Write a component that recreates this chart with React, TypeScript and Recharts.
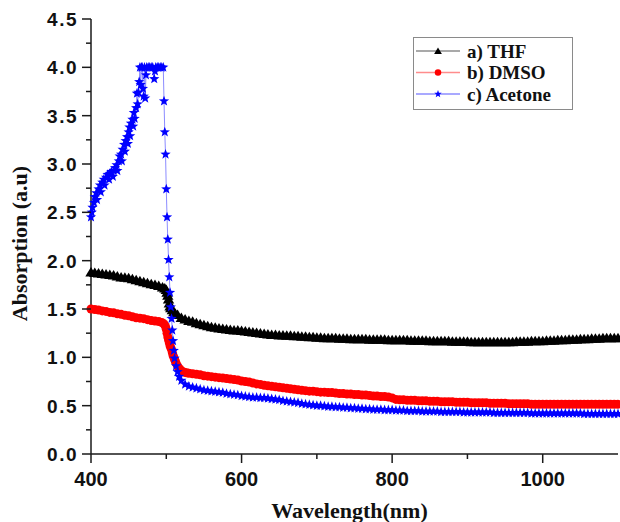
import { LineChart, Line, XAxis, YAxis, Legend } from "recharts";

type Pt = [number, number];

// wavelength (nm), absorption (a.u.)
const thf: Pt[] = [
  [400, 1.88], [405, 1.875], [410, 1.87], [415, 1.865], [420, 1.86], [425, 1.855], [430, 1.85], [435, 1.84],
  [440, 1.83], [445, 1.825], [450, 1.82], [455, 1.81], [460, 1.8], [465, 1.79], [470, 1.78], [475, 1.77],
  [480, 1.76], [485, 1.75], [490, 1.74], [495, 1.725], [498, 1.715], [500, 1.7], [501, 1.67], [502, 1.64],
  [503, 1.6], [504, 1.56], [505, 1.53], [506, 1.51], [508, 1.49], [510, 1.47], [512, 1.455], [515, 1.44],
  [520, 1.41], [525, 1.395], [530, 1.38], [535, 1.37], [540, 1.355], [545, 1.345], [550, 1.335], [555, 1.325],
  [560, 1.315], [565, 1.31], [570, 1.3], [575, 1.295], [580, 1.29], [585, 1.285], [590, 1.28], [595, 1.28],
  [600, 1.275], [605, 1.27], [610, 1.265], [615, 1.26], [620, 1.255], [625, 1.25], [630, 1.245], [635, 1.24],
  [640, 1.235], [645, 1.235], [650, 1.23], [655, 1.23], [660, 1.225], [665, 1.225], [670, 1.22], [675, 1.22],
  [680, 1.215], [685, 1.215], [690, 1.21], [695, 1.21], [700, 1.205], [705, 1.205], [710, 1.2], [715, 1.2],
  [720, 1.2], [725, 1.2], [730, 1.195], [735, 1.195], [740, 1.195], [745, 1.19], [750, 1.19], [755, 1.19],
  [760, 1.19], [765, 1.19], [770, 1.185], [775, 1.185], [780, 1.185], [785, 1.185], [790, 1.185], [795, 1.18],
  [800, 1.18], [805, 1.18], [810, 1.18], [815, 1.18], [820, 1.18], [825, 1.175], [830, 1.175], [835, 1.175],
  [840, 1.175], [845, 1.175], [850, 1.17], [855, 1.17], [860, 1.17], [865, 1.17], [870, 1.17], [875, 1.17],
  [880, 1.165], [885, 1.165], [890, 1.165], [895, 1.165], [900, 1.165], [905, 1.16], [910, 1.16], [915, 1.16],
  [920, 1.16], [925, 1.16], [930, 1.16], [935, 1.16], [940, 1.16], [945, 1.16], [950, 1.16], [955, 1.16],
  [960, 1.16], [965, 1.165], [970, 1.165], [975, 1.165], [980, 1.165], [985, 1.17], [990, 1.17], [995, 1.17],
  [1000, 1.17], [1005, 1.175], [1010, 1.175], [1015, 1.175], [1020, 1.18], [1025, 1.18], [1030, 1.18],
  [1035, 1.185], [1040, 1.185], [1045, 1.185], [1050, 1.19], [1055, 1.19], [1060, 1.19], [1065, 1.195],
  [1070, 1.195], [1075, 1.195], [1080, 1.2], [1085, 1.2], [1090, 1.2], [1095, 1.2], [1100, 1.2],
];

const dmso: Pt[] = [
  [400, 1.5], [405, 1.495], [410, 1.49], [415, 1.48], [420, 1.475], [425, 1.465], [430, 1.46], [435, 1.45],
  [440, 1.445], [445, 1.435], [450, 1.43], [455, 1.42], [460, 1.41], [465, 1.405], [470, 1.4], [475, 1.39],
  [480, 1.38], [485, 1.375], [490, 1.37], [494, 1.36], [497, 1.345], [499, 1.32], [500, 1.29], [501, 1.25],
  [502, 1.21], [503, 1.18], [504, 1.15], [505, 1.12], [506, 1.1], [507, 1.08], [508, 1.05], [509, 1.02],
  [510, 1.0], [511, 0.98], [512, 0.96], [513, 0.94], [515, 0.91], [517, 0.885], [519, 0.87], [521, 0.855],
  [524, 0.845], [527, 0.84], [530, 0.835], [535, 0.83], [540, 0.825], [545, 0.82], [550, 0.81], [555, 0.805],
  [560, 0.8], [565, 0.795], [570, 0.79], [575, 0.785], [580, 0.78], [585, 0.775], [590, 0.77], [595, 0.765],
  [600, 0.755], [605, 0.75], [610, 0.745], [615, 0.735], [620, 0.725], [625, 0.72], [630, 0.71], [635, 0.705],
  [640, 0.7], [645, 0.695], [650, 0.69], [655, 0.685], [660, 0.68], [665, 0.675], [670, 0.67], [675, 0.665],
  [680, 0.66], [685, 0.655], [690, 0.65], [695, 0.65], [700, 0.645], [705, 0.64], [710, 0.64], [715, 0.635],
  [720, 0.635], [725, 0.63], [730, 0.625], [735, 0.625], [740, 0.62], [745, 0.62], [750, 0.615], [755, 0.615],
  [760, 0.61], [765, 0.61], [770, 0.605], [775, 0.6], [780, 0.6], [785, 0.595], [790, 0.595], [795, 0.59],
  [800, 0.58], [805, 0.565], [810, 0.56], [815, 0.56], [820, 0.555], [825, 0.555], [830, 0.555], [835, 0.55],
  [840, 0.55], [845, 0.55], [850, 0.545], [855, 0.545], [860, 0.545], [865, 0.54], [870, 0.54], [875, 0.54],
  [880, 0.54], [885, 0.535], [890, 0.535], [895, 0.535], [900, 0.535], [905, 0.53], [910, 0.53], [915, 0.53],
  [920, 0.53], [925, 0.53], [930, 0.525], [935, 0.525], [940, 0.525], [945, 0.525], [950, 0.525], [955, 0.52],
  [960, 0.52], [965, 0.52], [970, 0.52], [975, 0.52], [980, 0.52], [985, 0.515], [990, 0.515], [995, 0.515],
  [1000, 0.515], [1005, 0.515], [1010, 0.515], [1015, 0.515], [1020, 0.515], [1025, 0.515], [1030, 0.515],
  [1035, 0.515], [1040, 0.515], [1045, 0.515], [1050, 0.515], [1055, 0.515], [1060, 0.515], [1065, 0.515],
  [1070, 0.515], [1075, 0.515], [1080, 0.515], [1085, 0.515], [1090, 0.515], [1095, 0.515], [1100, 0.515],
];

const acetone: Pt[] = [
  [400, 2.45], [401, 2.5], [402, 2.55], [404, 2.6], [405, 2.66], [407, 2.7], [408, 2.63], [410, 2.74],
  [412, 2.78], [413, 2.71], [415, 2.81], [417, 2.84], [418, 2.78], [420, 2.86], [422, 2.89], [424, 2.84],
  [425, 2.9], [427, 2.92], [429, 2.87], [430, 2.93], [432, 2.96], [434, 2.99], [435, 2.93], [437, 3.03],
  [438, 3.08], [440, 3.1], [441, 3.03], [442, 3.15], [444, 3.2], [445, 3.13], [446, 3.24], [448, 3.28],
  [449, 3.21], [450, 3.33], [451, 3.38], [452, 3.29], [453, 3.42], [455, 3.46], [456, 3.39], [457, 3.53],
  [458, 3.47], [460, 3.58], [461, 3.73], [462, 3.62], [463, 3.74], [464, 3.85], [465, 4.0], [466, 3.82],
  [467, 4.0], [468, 4.0], [469, 3.78], [470, 3.7], [471, 4.0], [472, 3.68], [473, 3.92], [474, 4.0],
  [476, 4.0], [478, 4.0], [480, 4.0], [482, 4.0], [484, 3.88], [485, 3.96], [486, 4.0], [488, 4.0],
  [490, 4.0], [492, 4.0], [494, 4.0], [496, 4.0], [497, 3.65], [498, 3.33], [499, 3.1], [500, 2.74],
  [501, 2.45], [502, 2.22], [503, 2.01], [504, 1.83], [505, 1.67], [506, 1.52], [507, 1.4], [508, 1.28],
  [509, 1.17], [510, 1.07], [511, 0.99], [513, 0.91], [515, 0.85], [517, 0.8], [520, 0.76], [525, 0.72],
  [530, 0.7], [535, 0.69], [540, 0.68], [545, 0.67], [550, 0.66], [555, 0.655], [560, 0.65], [565, 0.645],
  [570, 0.64], [575, 0.635], [580, 0.625], [585, 0.62], [590, 0.615], [595, 0.61], [600, 0.6], [605, 0.595],
  [610, 0.59], [615, 0.585], [620, 0.585], [625, 0.58], [630, 0.58], [635, 0.575], [640, 0.57], [645, 0.565],
  [650, 0.56], [655, 0.55], [660, 0.545], [665, 0.54], [670, 0.535], [675, 0.53], [680, 0.52], [685, 0.515],
  [690, 0.51], [695, 0.505], [700, 0.5], [705, 0.5], [710, 0.495], [715, 0.49], [720, 0.49], [725, 0.485],
  [730, 0.485], [735, 0.48], [740, 0.48], [745, 0.475], [750, 0.475], [755, 0.47], [760, 0.47], [765, 0.465],
  [770, 0.465], [775, 0.46], [780, 0.46], [785, 0.46], [790, 0.455], [795, 0.455], [800, 0.455], [805, 0.45],
  [810, 0.45], [815, 0.45], [820, 0.445], [825, 0.445], [830, 0.445], [835, 0.445], [840, 0.44], [845, 0.44],
  [850, 0.44], [855, 0.44], [860, 0.44], [865, 0.435], [870, 0.435], [875, 0.435], [880, 0.435], [885, 0.435],
  [890, 0.435], [895, 0.43], [900, 0.43], [905, 0.43], [910, 0.43], [915, 0.43], [920, 0.43], [925, 0.43],
  [930, 0.43], [935, 0.425], [940, 0.425], [945, 0.425], [950, 0.425], [955, 0.425], [960, 0.425], [965, 0.425],
  [970, 0.425], [975, 0.425], [980, 0.425], [985, 0.42], [990, 0.42], [995, 0.42], [1000, 0.42], [1005, 0.42],
  [1010, 0.42], [1015, 0.42], [1020, 0.42], [1025, 0.42], [1030, 0.42], [1035, 0.42], [1040, 0.42],
  [1045, 0.42], [1050, 0.42], [1055, 0.415], [1060, 0.415], [1065, 0.415], [1070, 0.415], [1075, 0.415],
  [1080, 0.415], [1085, 0.415], [1090, 0.415], [1095, 0.415], [1100, 0.415],
];

const xTicks = [400, 500, 600, 700, 800, 900, 1000];
const yTicks = [
  0, 0.25, 0.5, 0.75, 1, 1.25, 1.5, 1.75, 2, 2.25, 2.5, 2.75, 3, 3.25, 3.5, 3.75, 4, 4.25, 4.5,
];

const series = [
  { name: "a) THF", data: thf, color: "#000000", line: "#8c8c8c", shape: "triangle", size: 9.5 },
  { name: "b) DMSO", data: dmso, color: "#ff0000", line: "#ff8c8c", shape: "circle", size: 9 },
  { name: "c) Acetone", data: acetone, color: "#0000ff", line: "#8c8cff", shape: "star", size: 9 },
];

const AXIS = "#1a1a1a";
const SANS = "'Liberation Sans', Arial, sans-serif";
const SERIF = "'Liberation Serif', 'Times New Roman', serif";

function Mark({ cx, cy, shape, color, s }: any) {
  if (cx == null || cy == null) return null;
  if (shape === "triangle") {
    const pts = `${cx},${cy - s * 0.55} ${cx + s * 0.6},${cy + s * 0.45} ${cx - s * 0.6},${cy + s * 0.45}`;
    return <polygon points={pts} fill={color} />;
  }
  if (shape === "circle") return <circle cx={cx} cy={cy} r={s * 0.5} fill={color} />;
  const pts: string[] = [];
  for (let k = 0; k < 10; k++) {
    const r = k % 2 === 0 ? s * 0.6 : s * 0.25;
    const ang = -Math.PI / 2 + (k * Math.PI) / 5;
    pts.push(`${cx + r * Math.cos(ang)},${cy + r * Math.sin(ang)}`);
  }
  return <polygon points={pts.join(" ")} fill={color} />;
}

function XTick({ x, y, payload }: any) {
  const major = payload.value % 200 === 0;
  return (
    <g>
      <line x1={x} x2={x} y1={y} y2={y + (major ? 9 : 5)} stroke={AXIS} strokeWidth={1.5} />
      {major && (
        <text x={x} y={y + 32} textAnchor="middle" fontFamily={SANS} fontWeight="bold" fontSize={20} fill="#111">
          {payload.value}
        </text>
      )}
    </g>
  );
}

function YTick({ x, y, payload }: any) {
  const v = payload.value;
  const major = Math.abs(v * 2 - Math.round(v * 2)) < 1e-6;
  return (
    <g>
      <line x1={x - (major ? 9 : 5)} x2={x} y1={y} y2={y} stroke={AXIS} strokeWidth={1.5} />
      {major && (
        <text x={x - 13} y={y + 7} textAnchor="end" fontFamily={SANS} fontWeight="bold" fontSize={19} letterSpacing={1.5} fill="#111">
          {v.toFixed(1)}
        </text>
      )}
    </g>
  );
}

function LegendBox() {
  return (
    <svg width={160} height={73} style={{ display: "block" }}>
      <rect x={0.5} y={0.5} width={159} height={72} fill="#fff" stroke="#8a8a8a" />
      {series.map((s, i) => {
        const cy = 14 + i * 21.5;
        return (
          <g key={s.name}>
            <line x1={3} x2={47} y1={cy} y2={cy} stroke={s.line} strokeWidth={1.5} />
            <Mark cx={25} cy={cy} shape={s.shape} color={s.color} s={6.5} />
            <text x={54} y={cy + 6.5} fontFamily={SERIF} fontWeight="bold" fontSize={19} fill="#111">
              {s.name}
            </text>
          </g>
        );
      })}
    </svg>
  );
}

export default function App() {
  return (
    <div style={{ position: "absolute", left: 0, top: 0, background: "#fff" }}>
      <LineChart width={620} height={522} margin={{ top: 19, right: 2, bottom: 8, left: 0 }}>
        <XAxis
          type="number"
          dataKey="wl"
          domain={[400, 1100]}
          ticks={xTicks}
          interval={0}
          height={60}
          tickSize={0}
          tickMargin={0}
          tickLine={false}
          axisLine={{ stroke: AXIS, strokeWidth: 1.5 }}
          tick={(p: any) => <XTick {...p} />}
          label={({ viewBox }: any) => (
            <text
              x={viewBox.x + viewBox.width / 2 - 5}
              y={viewBox.y + 64}
              textAnchor="middle"
              fontFamily={SERIF}
              fontWeight="bold"
              fontSize={22}
              fill="#111"
            >
              Wavelength(nm)
            </text>
          )}
        />
        <XAxis
          xAxisId="top"
          orientation="top"
          type="number"
          dataKey="wl"
          domain={[400, 1100]}
          height={0}
          tick={false}
          tickLine={false}
          axisLine={{ stroke: AXIS, strokeWidth: 1.5 }}
        />
        <YAxis
          type="number"
          domain={[0, 4.5]}
          ticks={yTicks}
          interval={0}
          width={91}
          tickSize={0}
          tickMargin={0}
          tickLine={false}
          axisLine={{ stroke: AXIS, strokeWidth: 1.5 }}
          tick={(p: any) => <YTick {...p} />}
          label={({ viewBox }: any) => {
            const cx = 27;
            const cy = viewBox.y + viewBox.height / 2 + 7;
            return (
              <text
                x={cx}
                y={cy}
                transform={`rotate(-90 ${cx} ${cy})`}
                textAnchor="middle"
                fontFamily={SERIF}
                fontWeight="bold"
                fontSize={22}
                fill="#111"
              >
                Absorption (a.u)
              </text>
            );
          }}
        />
        <YAxis
          yAxisId="right"
          orientation="right"
          type="number"
          domain={[0, 4.5]}
          width={0}
          tick={false}
          tickLine={false}
          axisLine={{ stroke: AXIS, strokeWidth: 1.5 }}
        />
        {series.map((s) => (
          <Line
            key={s.name}
            name={s.name}
            data={s.data.map(([wl, a]) => ({ wl, a }))}
            dataKey="a"
            type="linear"
            stroke={s.line}
            strokeWidth={1}
            isAnimationActive={false}
            activeDot={false}
            dot={(p: any) => (
              <Mark key={`${s.name}-${p.index}`} cx={p.cx} cy={p.cy} shape={s.shape} color={s.color} s={s.size} />
            )}
          />
        ))}
        <Legend
          layout="vertical"
          align="center"
          verticalAlign="middle"
          content={() => <LegendBox />}
          wrapperStyle={{ left: 413, top: 37, width: 160, height: 73, margin: 0, padding: 0, lineHeight: 0 }}
        />
      </LineChart>
    </div>
  );
}
